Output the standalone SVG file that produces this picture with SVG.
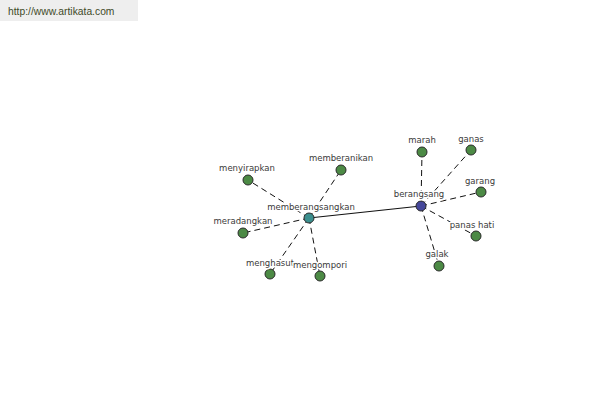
<svg xmlns="http://www.w3.org/2000/svg" width="600" height="400" viewBox="0 0 600 400">
<style>
.lbl{font-family:"DejaVu Sans",sans-serif;font-size:8.5px;fill:#3a3a3a;text-anchor:middle;stroke:#fff;stroke-width:3px;paint-order:stroke;stroke-linejoin:round}
.leaf{fill:#4c8a45;stroke:#2a2a2a;stroke-width:1}
.dash{stroke:#111;stroke-width:1;stroke-dasharray:6,4;fill:none}
.solid{stroke:#111;stroke-width:1.2;fill:none}
</style>
<rect width="600" height="400" fill="#fff"/>
<g id="header">
<rect x="0" y="0" width="138" height="21" fill="#eeeeee"/>
<text x="8" y="15" font-family="Liberation Sans, sans-serif" font-size="10.3" fill="#3f4a28">http://www.artikata.com</text>
</g>
<g id="connectors">
<line class="solid" x1="309" y1="218" x2="421" y2="206"/>
<line class="dash" x1="309" y1="218" x2="248" y2="180"/>
<line class="dash" x1="309" y1="218" x2="341" y2="170"/>
<line class="dash" x1="309" y1="218" x2="243" y2="233"/>
<line class="dash" x1="309" y1="218" x2="270" y2="274"/>
<line class="dash" x1="309" y1="218" x2="320" y2="276"/>
<line class="dash" x1="421" y1="206" x2="422" y2="152"/>
<line class="dash" x1="421" y1="206" x2="471" y2="150"/>
<line class="dash" x1="421" y1="206" x2="481" y2="192"/>
<line class="dash" x1="421" y1="206" x2="476" y2="236"/>
<line class="dash" x1="421" y1="206" x2="439" y2="266"/>
</g>
<g id="memberangsangkan"><circle cx="309" cy="218" r="5" fill="#3b8f8e" stroke="#2a2a2a"/><text class="lbl" x="311" y="210">memberangsangkan</text></g>
<g id="berangsang"><circle cx="421" cy="206" r="5" fill="#45479a" stroke="#2a2a2a"/><text class="lbl" x="419" y="197">berangsang</text></g>
<g id="menyirapkan"><circle class="leaf" cx="248" cy="180" r="5"/><text class="lbl" x="247" y="171">menyirapkan</text></g>
<g id="memberanikan"><circle class="leaf" cx="341" cy="170" r="5"/><text class="lbl" x="341" y="161">memberanikan</text></g>
<g id="meradangkan"><circle class="leaf" cx="243" cy="233" r="5"/><text class="lbl" x="243" y="224">meradangkan</text></g>
<g id="menghasut"><circle class="leaf" cx="270" cy="274" r="5"/><text class="lbl" x="270" y="266">menghasut</text></g>
<g id="mengompori"><circle class="leaf" cx="320" cy="276" r="5"/><text class="lbl" x="320" y="268">mengompori</text></g>
<g id="marah"><circle class="leaf" cx="422" cy="152" r="5"/><text class="lbl" x="422" y="143">marah</text></g>
<g id="ganas"><circle class="leaf" cx="471" cy="150" r="5"/><text class="lbl" x="471" y="142">ganas</text></g>
<g id="garang"><circle class="leaf" cx="481" cy="192" r="5"/><text class="lbl" x="480" y="184">garang</text></g>
<g id="panas-hati"><circle class="leaf" cx="476" cy="236" r="5"/><text class="lbl" x="472" y="228">panas hati</text></g>
<g id="galak"><circle class="leaf" cx="439" cy="266" r="5"/><text class="lbl" x="437" y="257">galak</text></g>
</svg>
